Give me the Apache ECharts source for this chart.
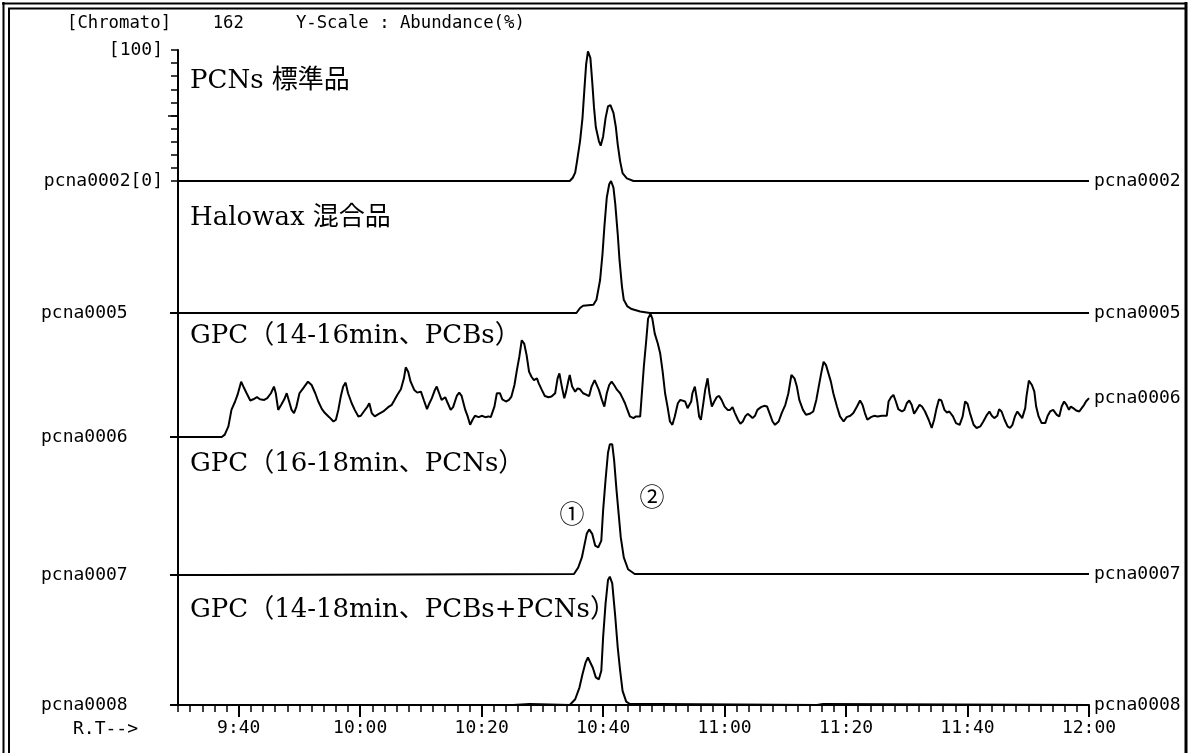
<!DOCTYPE html>
<html>
<head>
<meta charset="utf-8">
<title>Chromatogram m/z 162</title>
<script src="https://cdn.jsdelivr.net/npm/echarts@6/dist/echarts.min.js"></script>
<style>
  html, body { margin: 0; padding: 0; background: #fff; }
  #chart { width: 1192px; height: 753px; }
</style>
</head>
<body>
<div id="chart"></div>
<script>
// ---- data -------------------------------------------------------------
// Retention time is in seconds (displayed as m:ss); intensity in % of each trace's own full scale.
const traceIds = ['pcna0002', 'pcna0005', 'pcna0006', 'pcna0007', 'pcna0008'];
const traceTitles = ['PCNs 標準品', 'Halowax 混合品', 'GPC（14-16min、PCBs）', 'GPC（16-18min、PCNs）', 'GPC（14-18min、PCBs+PCNs）'];
const peakMarks = ['①', '②'];
const headerText = '[Chromato]    162     Y-Scale : Abundance(%)';
const rtAxisName = 'R.T-->';
const rtRange = [570, 720];
const rtTicks = [580, 600, 620, 640, 660, 680, 700, 720];
const topScaleLabels = ['[100]', '[0]'];

const pcnsStd = [
  [570, 0], [634.5, 0], [635.0, 2.5], [635.4, 6.4], [635.7, 15], [636.2, 30.5], [636.6, 48], [636.9, 69],
  [637.2, 89], [637.5, 99], [637.7, 100], [637.9, 94], [638.2, 76], [638.5, 56], [638.8, 41], [639.3, 30.5],
  [639.6, 27], [640.0, 34], [640.4, 48], [640.8, 57], [641.2, 58], [641.7, 52], [642.1, 41], [642.4, 28],
  [642.8, 15], [643.2, 6], [643.9, 2], [645, 0], [720, 0]
];

const halowax = [
  [570, 0], [635.6, 0], [636.2, 3.8], [636.7, 5.5], [638.4, 6.2], [638.9, 10], [639.5, 25], [639.9, 45],
  [640.2, 65], [640.6, 87.5], [641.0, 97.5], [641.3, 100], [641.7, 95], [642.0, 82.5], [642.4, 60], [642.7, 40],
  [643.1, 20], [643.4, 10], [644.0, 5], [644.7, 3], [646.1, 1.2], [647.7, 0], [720, 0]
];

const gpcPcbs = [
  [570, 0], [577.2, 0], [577.7, 1.9], [578.3, 8.6], [578.8, 22.0], [579.4, 28.8], [579.8, 34.1], [580.4, 44.9],
  [580.9, 39.5], [581.3, 35.5], [581.9, 29.6], [582.4, 30.6], [583.0, 32.3], [583.5, 30.6], [584.2, 30.1], [584.7, 31.5],
  [585.3, 35.5], [585.8, 40.9], [586.1, 35.5], [586.5, 22.0], [587.0, 26.1], [587.5, 30.6], [587.9, 35.5], [588.3, 28.8],
  [588.7, 22.0], [589.1, 19.4], [589.5, 24.7], [590.0, 35.5], [590.6, 39.5], [591.4, 44.9], [592.0, 42.2], [592.6, 35.5],
  [593.1, 28.8], [593.7, 22.6], [594.2, 19.4], [594.9, 16.1], [595.6, 12.6], [596.0, 14.0], [596.4, 22.0], [596.8, 32.8],
  [597.2, 40.9], [597.6, 44.1], [598.0, 35.5], [598.6, 27.4], [599.1, 22.0], [599.7, 16.7], [600.1, 17.2], [600.6, 20.7],
  [601.2, 24.7], [601.5, 27.4], [601.9, 19.4], [602.4, 16.7], [603.0, 18.5], [603.8, 20.7], [604.6, 24.2], [605.2, 26.1],
  [605.6, 29.6], [606.1, 34.1], [606.7, 38.7], [607.2, 47.6], [607.5, 56.5], [607.9, 53.0], [608.3, 44.9], [608.9, 38.2],
  [609.4, 36.0], [610.0, 36.8], [610.5, 29.6], [611.0, 22.6], [611.4, 27.4], [611.8, 31.5], [612.3, 38.2], [612.6, 40.9],
  [613.0, 35.5], [613.4, 30.1], [614.0, 32.3], [614.3, 28.8], [614.9, 22.0], [615.3, 24.2], [615.9, 33.3], [616.3, 36.0],
  [616.7, 33.3], [617.3, 22.0], [617.7, 16.7], [618.1, 9.9], [618.5, 14.0], [618.9, 17.2], [619.5, 16.1], [620.0, 17.2],
  [620.6, 16.1], [621.1, 16.7], [621.5, 16.1], [622.1, 24.7], [622.5, 35.5], [623.0, 35.5], [623.4, 30.6], [624.0, 28.8],
  [624.5, 30.1], [624.9, 32.8], [625.4, 42.2], [625.8, 54.3], [626.2, 65.1], [626.6, 78.5], [627.0, 75.8], [627.4, 66.4],
  [627.8, 53.0], [628.2, 48.9], [628.6, 46.2], [629.1, 47.6], [629.4, 43.5], [629.9, 38.2], [630.4, 33.3], [631.0, 32.3],
  [631.5, 32.8], [632.1, 35.5], [632.5, 47.6], [632.8, 51.6], [633.2, 40.9], [633.6, 31.5], [633.9, 36.8], [634.3, 46.2],
  [634.5, 50.3], [634.9, 40.9], [635.4, 36.8], [635.8, 39.5], [636.2, 38.7], [636.7, 35.5], [637.3, 34.1], [637.7, 33.3],
  [638.1, 40.9], [638.6, 46.2], [638.9, 47.6], [639.3, 38.2], [639.8, 30.1], [640.2, 24.7], [640.6, 35.5], [641.0, 42.2],
  [641.4, 44.9], [641.8, 42.2], [642.3, 38.2], [642.8, 35.5], [643.2, 31.5], [643.6, 27.4], [644.0, 22.0], [644.4, 16.7],
  [645.0, 15.3], [645.4, 16.7], [645.7, 16.1], [646.1, 16.7], [646.3, 30.1], [646.7, 57.0], [647.1, 78.5], [647.4, 96.0],
  [647.8, 100], [648.1, 96.0], [648.5, 83.9], [649.0, 75.8], [649.4, 67.7], [649.8, 53.0], [650.2, 35.5], [650.6, 24.7],
  [651.0, 12.6], [651.4, 9.9], [651.8, 16.7], [652.3, 27.4], [652.7, 30.1], [653.0, 30.1], [653.5, 28.8], [653.9, 23.4],
  [654.5, 28.8], [654.7, 35.5], [655.1, 40.9], [655.5, 28.8], [655.8, 16.7], [656.1, 14.0], [656.5, 27.4], [656.8, 38.2],
  [657.2, 47.6], [657.5, 35.5], [657.9, 24.7], [658.3, 28.8], [658.7, 32.3], [659.1, 33.3], [659.5, 30.1], [660.0, 24.7],
  [660.5, 22.0], [660.9, 22.0], [661.3, 24.2], [661.7, 19.4], [662.2, 14.0], [662.6, 10.8], [663.0, 12.6], [663.4, 16.7],
  [663.8, 18.8], [664.2, 17.2], [664.6, 15.3], [665.0, 17.2], [665.4, 22.0], [666.0, 24.2], [666.5, 25.3], [667.0, 24.7],
  [667.5, 18.0], [667.9, 12.6], [668.3, 9.9], [668.9, 12.6], [669.4, 19.4], [670.0, 26.1], [670.5, 35.5], [671.0, 50.3],
  [671.5, 47.6], [671.9, 40.9], [672.3, 30.1], [672.9, 22.0], [673.4, 18.0], [674.0, 18.8], [674.6, 20.7], [675.1, 30.1],
  [675.5, 40.9], [675.9, 51.6], [676.3, 61.0], [676.7, 58.3], [677.1, 51.6], [677.5, 44.9], [677.9, 35.5], [678.5, 24.7],
  [679.0, 16.7], [679.6, 12.6], [680.1, 16.1], [680.7, 17.2], [681.2, 19.4], [681.8, 24.7], [682.3, 29.6], [682.7, 26.1],
  [683.1, 19.4], [683.5, 14.0], [684.1, 16.1], [684.6, 17.2], [685.2, 16.7], [685.9, 17.2], [686.7, 17.2], [687.0, 28.8],
  [687.4, 32.3], [687.8, 34.1], [688.2, 28.8], [688.6, 22.6], [689.2, 20.7], [689.6, 22.0], [690.0, 27.4], [690.4, 29.6],
  [690.8, 26.1], [691.2, 18.8], [691.6, 22.0], [692.1, 26.1], [692.5, 24.7], [693.0, 20.7], [693.6, 14.0], [694.1, 7.3],
  [694.5, 14.0], [694.9, 23.4], [695.3, 30.6], [695.7, 29.6], [696.2, 22.0], [696.6, 19.9], [697.0, 20.7], [697.6, 16.7],
  [698.1, 11.3], [698.7, 9.9], [699.2, 16.7], [699.6, 28.8], [700.0, 26.9], [700.4, 19.4], [701.0, 9.9], [701.5, 7.3],
  [702.1, 8.6], [702.6, 12.6], [703.2, 18.0], [703.6, 20.7], [704.0, 17.2], [704.4, 15.3], [704.9, 17.2], [705.2, 22.6],
  [705.6, 20.7], [706.1, 14.0], [706.6, 8.6], [707.0, 7.3], [707.4, 9.9], [707.8, 16.7], [708.2, 20.7], [708.6, 18.0],
  [709.0, 15.3], [709.5, 23.4], [709.7, 32.8], [710.1, 45.7], [710.6, 42.2], [711.0, 36.8], [711.3, 24.7], [711.7, 16.7],
  [712.2, 11.3], [712.8, 11.3], [713.2, 17.2], [713.6, 20.7], [714.1, 22.0], [714.7, 18.0], [715.1, 16.7], [715.5, 24.7],
  [715.9, 28.8], [716.3, 26.1], [716.7, 22.0], [717.0, 24.7], [717.4, 23.4], [717.9, 21.5], [718.4, 20.7], [718.8, 23.4],
  [719.2, 26.1], [719.5, 28.8], [720.0, 31.5]
];

const gpcPcns = [
  [570, 0], [577.2, 0], [577.3, 0.8], [635.2, 0.8], [635.9, 5.7], [636.5, 13.4], [636.9, 22.4], [637.3, 31.4],
  [637.7, 34.8], [638.2, 31.4], [638.7, 22.4], [639.2, 21.1], [639.7, 26.3], [640.0, 49.5], [640.4, 72.7], [640.8, 93.3],
  [641.1, 99.7], [641.3, 100], [641.5, 99.7], [641.8, 88.1], [642.2, 64.9], [642.6, 44.3], [642.9, 28.9], [643.4, 13.4],
  [644.1, 4.4], [645.2, 0.8], [720, 0.8]
];

const gpcAll = [
  [570, 0], [625.2, 0], [625.3, 0.8], [627.9, 0.8], [628.0, 0], [634.5, 0], [635.4, 4.5], [636.1, 13.6],
  [636.6, 24], [637.1, 33], [637.5, 37], [637.8, 36.6], [638.3, 29], [638.8, 21.5], [639.3, 20], [639.7, 26.7],
  [640.0, 53], [640.4, 79], [640.8, 97.4], [641.1, 100], [641.5, 94.8], [642.0, 68.6], [642.4, 45], [642.8, 26.7],
  [643.2, 11], [643.8, 2.6], [644.4, 0.8], [649.4, 0.8], [649.5, 0], [675.2, 0], [675.3, 0.8], [676.2, 0.8],
  [676.3, 0], [720, 0]
];

const traceData = [pcnsStd, halowax, gpcPcbs, gpcPcns, gpcAll];

// ---- layout & styles ---------------------------------------------------
const MONO = '"DejaVu Sans Mono", "Liberation Mono", monospace';
const SERIF = '"DejaVu Serif", "Noto Sans CJK JP", serif';
const INK = '#000';
const LABEL_SIZE = 18;
const PLOT_LEFT = 178;
const PLOT_WIDTH = 911;
// stacked panels, one per trace (top, height in px) and the value at each panel's top edge
const panels = [
  { top: 50, height: 131, max: 100 },
  { top: 181, height: 132, max: 100 },
  { top: 313, height: 124, max: 100.6 },
  { top: 437, height: 138, max: 105.3 },
  { top: 575, height: 130, max: 101.3 }
];

function fmtRT(v) {
  const m = Math.floor(v / 60);
  const s = Math.round(v - m * 60);
  return m + ':' + (s < 10 ? '0' : '') + s;
}

const grid = panels.map(p => ({ left: PLOT_LEFT, width: PLOT_WIDTH, top: p.top, height: p.height, containLabel: false }));

const xAxis = panels.map((p, i) => ({
  type: 'value', gridIndex: i, min: rtRange[0], max: rtRange[1], position: 'bottom',
  show: i === panels.length - 1,
  axisLine: { show: true, onZero: false, lineStyle: { color: INK, width: 2 } },
  axisTick: { show: true, customValues: rtTicks, length: 12, lineStyle: { color: INK, width: 2 } },
  axisLabel: {
    show: true, customValues: rtTicks, formatter: fmtRT, margin: 14,
    color: INK, fontFamily: MONO, fontSize: LABEL_SIZE
  },
  splitLine: { show: false }
}));
// minor retention-time ticks every 2 s
xAxis.push({
  type: 'value', gridIndex: panels.length - 1, min: rtRange[0], max: rtRange[1], interval: 2,
  position: 'bottom', offset: 0,
  axisLine: { show: false, onZero: false },
  axisTick: { show: true, length: 7, lineStyle: { color: INK, width: 1.5 } },
  axisLabel: { show: false },
  splitLine: { show: false }
});

const yAxis = panels.map((p, i) => {
  const base = {
    type: 'value', gridIndex: i, min: 0, max: p.max, position: 'left',
    axisLine: { show: true, lineStyle: { color: INK, width: 2 } },
    splitLine: { show: false }
  };
  if (i === 0) {
    return Object.assign(base, {
      interval: 10,
      axisTick: { show: true, length: 7, lineStyle: { color: INK, width: 1.5 } },
      axisLabel: {
        show: true, margin: 15, align: 'right', color: INK, fontFamily: MONO, fontSize: LABEL_SIZE,
        showMinLabel: true, showMaxLabel: true,
        formatter: v => v === 100 ? topScaleLabels[0] : (v === 0 ? traceIds[0] + topScaleLabels[1] : '')
      }
    });
  }
  return Object.assign(base, {
    axisTick: { show: true, customValues: [0], length: 8, lineStyle: { color: INK, width: 2 } },
    axisLabel: {
      show: true, customValues: [0], margin: 137, align: 'left', color: INK,
      fontFamily: MONO, fontSize: LABEL_SIZE, formatter: () => traceIds[i]
    }
  });
});
// longer mid-scale tick on the top trace
yAxis.push({
  type: 'value', gridIndex: 0, min: 0, max: 100, position: 'left', offset: 0,
  axisLine: { show: false },
  axisTick: { show: true, customValues: [50], length: 10, lineStyle: { color: INK, width: 1.5 } },
  axisLabel: { show: false },
  splitLine: { show: false }
});

const series = traceData.map((d, i) => ({
  type: 'line', name: traceIds[i], xAxisIndex: i, yAxisIndex: i, data: d,
  showSymbol: false, symbol: 'none', clip: false, silent: true,
  lineStyle: { color: INK, width: 2 },
  endLabel: {
    show: true, formatter: '{a}', distance: 5, color: INK,
    fontFamily: MONO, fontSize: LABEL_SIZE
  }
}));

// trace captions inside the plot
const captionPos = [[190, 81], [190, 218], [190, 336], [190, 464], [190, 610]];
const captions = traceTitles.map((t, i) => ({
  type: 'text', x: captionPos[i][0], y: captionPos[i][1], z: 50,
  style: { text: t, fill: INK, font: '26px ' + SERIF, textAlign: 'left', textVerticalAlign: 'middle' }
}));
const markPos = [[572, 513], [652, 496]];
const marks = peakMarks.map((t, i) => ({
  type: 'text', x: markPos[i][0], y: markPos[i][1], z: 50,
  style: { text: t, fill: INK, font: '25px "Noto Sans CJK JP", sans-serif', textAlign: 'center', textVerticalAlign: 'middle' }
}));

const frame = [
  // right margin mask and border
  { type: 'rect', z: 100, shape: { x: 1184, y: 0, width: 8, height: 753 }, style: { fill: '#fff' } },
  { type: 'line', z: 101, shape: { x1: 1186, y1: 2, x2: 1186, y2: 753 }, style: { stroke: INK, lineWidth: 3 } },
  // double border on the top and left
  { type: 'line', z: 101, shape: { x1: 2, y1: 3.5, x2: 1187, y2: 3.5 }, style: { stroke: INK, lineWidth: 2 } },
  { type: 'line', z: 101, shape: { x1: 8, y1: 8.5, x2: 1187, y2: 8.5 }, style: { stroke: INK, lineWidth: 2 } },
  { type: 'line', z: 101, shape: { x1: 3.5, y1: 2, x2: 3.5, y2: 753 }, style: { stroke: INK, lineWidth: 2 } },
  { type: 'line', z: 101, shape: { x1: 9, y1: 8, x2: 9, y2: 753 }, style: { stroke: INK, lineWidth: 2 } },
  { type: 'text', z: 50, x: 67, y: 24,
    style: { text: headerText, fill: INK, font: '17.3px ' + MONO, textAlign: 'left', textVerticalAlign: 'middle' } },
  { type: 'text', z: 50, x: 138, y: 729,
    style: { text: rtAxisName, fill: INK, font: LABEL_SIZE + 'px ' + MONO, textAlign: 'right', textVerticalAlign: 'middle' } }
];

const chart = echarts.init(document.getElementById('chart'), null, { renderer: 'canvas' });
chart.setOption({
  animation: false,
  backgroundColor: '#fff',
  grid, xAxis, yAxis, series,
  graphic: { elements: frame.concat(captions, marks) }
});
</script>
</body>
</html>
